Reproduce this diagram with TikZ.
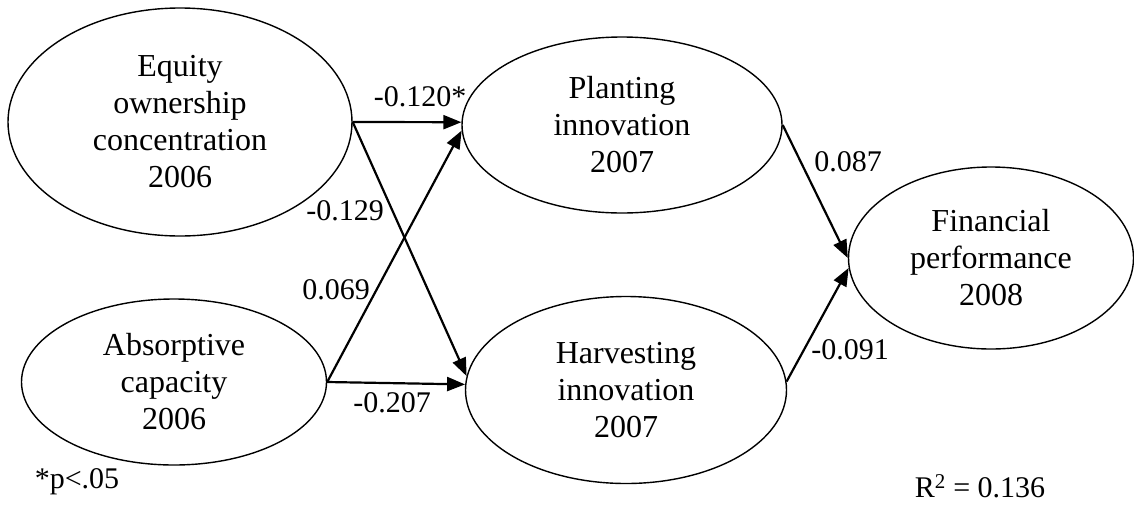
\documentclass[tikz,border=0pt]{standalone}
\usepackage{fontspec}
\setmainfont{Liberation Serif}
\usetikzlibrary{shapes.geometric,arrows.meta}
\begin{document}
\begin{tikzpicture}[x=1pt,y=-1pt,
  latent/.style={draw,line width=1.4pt,ellipse,inner sep=0pt,align=center,
    font=\fontsize{32}{37}\selectfont},
  path/.style={line width=2.2pt,-{Triangle[length=18pt,width=14pt]}},
  coef/.style={inner sep=0pt,font=\fontsize{30}{34}\selectfont}]
\useasboundingbox (0,0) rectangle (1134,504);
\node[latent,minimum width=344pt,minimum height=228pt] (eq) at (180,122) {Equity\\ownership\\concentration\\2006};
\node[latent,minimum width=305pt,minimum height=166pt] (abs) at (174,382) {Absorptive\\capacity\\2006};
\node[latent,minimum width=320pt,minimum height=176pt] (pl) at (622,125) {Planting\\innovation\\2007};
\node[latent,minimum width=321pt,minimum height=187pt] (hv) at (626,390) {Harvesting\\innovation\\2007};
\node[latent,minimum width=285pt,minimum height=182pt] (fin) at (991,258) {Financial\\performance\\2008};
\draw[path] (eq.east) -- (pl.179);
\draw[path] (eq.east) -- (hv.175);
\draw[path] (abs.east) -- (pl.182);
\draw[path] (abs.east) -- (hv.178);
\draw[path] (pl.east) -- (fin.180);
\draw[path] (hv.3) -- (fin.184);
\node[coef] (l1) at (420,97) {-0.120*};
\node[coef] (l2) at (345,211) {-0.129};
\node[coef] (l3) at (336,290) {0.069};
\node[coef] (l4) at (392,403) {-0.207};
\node[coef] (l5) at (848,162) {0.087};
\node[coef] (l6) at (850,350) {-0.091};
\node[coef] (note) at (77,482) {*p<.05};
\node[coef] (r2) at (980,486) {R\textsuperscript{2} = 0.136};
\end{tikzpicture}
\end{document}
